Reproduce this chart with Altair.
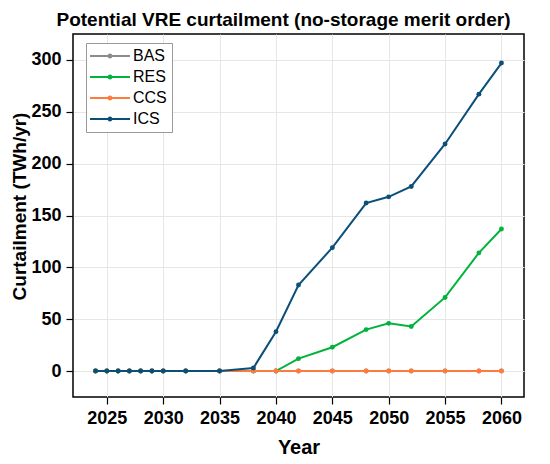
import altair as alt
import pandas as pd

years = [2024, 2025, 2026, 2027, 2028, 2029, 2030, 2032, 2035, 2038,
         2040, 2042, 2045, 2048, 2050, 2052, 2055, 2058, 2060]
bas = [0, 0, 0, 0, 0, 0, 0, 0, 0, 0, 0, 0, 0, 0, 0, 0, 0, 0, 0]
res = [0, 0, 0, 0, 0, 0, 0, 0, 0, 0, 0, 12, 23, 40, 46, 43, 71, 114, 137]
ccs = [0, 0, 0, 0, 0, 0, 0, 0, 0, 0, 0, 0, 0, 0, 0, 0, 0, 0, 0]
ics = [0, 0, 0, 0, 0, 0, 0, 0, 0, 3, 38, 83, 119, 162, 168, 178, 219, 267, 297]

series_names = ["BAS", "RES", "CCS", "ICS"]
series_colors = ["#8c8c8c", "#00b33c", "#ff7a3d", "#0b4f79"]
x_ticks = [2025, 2030, 2035, 2040, 2045, 2050, 2055, 2060]
y_ticks = [0, 50, 100, 150, 200, 250, 300]

rows = []
for name, vals in zip(series_names, [bas, res, ccs, ics]):
    for yr, v in zip(years, vals):
        rows.append({"Year": yr, "Curtailment": v, "Series": name})
df = pd.DataFrame(rows)

FONT = "Liberation Sans"

x_enc = alt.X("Year:Q",
              scale=alt.Scale(domain=[2022, 2062], nice=False, zero=False),
              axis=alt.Axis(values=x_ticks, format="d", title="Year"))
y_enc = alt.Y("Curtailment:Q",
              scale=alt.Scale(domain=[-25, 325], nice=False, zero=False),
              axis=alt.Axis(values=y_ticks, title="Curtailment (TWh/yr)",
                            titleY=172, titleFontSize=19, titlePadding=1))

color_scale = alt.Scale(domain=series_names, range=series_colors)

sym_path = ("M-4,-0.2L4,-0.2L4,0.2L-4,0.2Z "
            "M-0.5,0A0.5,0.5,0,1,1,0.5,0A0.5,0.5,0,1,1,-0.5,0Z")

legend = alt.Legend(
    title=None, orient="none", legendX=13, legendY=9,
    symbolType=sym_path, symbolSize=100, symbolOffset=11, labelOffset=15,
    symbolStrokeWidth=0,
    labelFont=FONT, labelFontSize=16, labelColor="black",
    strokeColor="#9a9a9a", fillColor="white", padding=5, rowPadding=5,
    cornerRadius=0,
)

layers = []
for name, col in zip(series_names, series_colors):
    base = alt.Chart(df).transform_filter(alt.datum.Series == name)
    line = base.mark_line(strokeWidth=2, color=col).encode(x=x_enc, y=y_enc)
    pts = base.mark_point(filled=True, size=24, opacity=1).encode(
        x=x_enc, y=y_enc,
        color=alt.Color("Series:N", scale=color_scale, legend=legend),
    )
    layers += [line, pts]

chart = alt.layer(*layers).properties(
    width=451, height=363,
    autosize="none",
    padding={"left": 65, "top": 26, "right": 18, "bottom": 59},
    title=alt.Title("Potential VRE curtailment (no-storage merit order)",
                    font=FONT, fontSize=19, fontWeight="bold", color="black",
                    anchor="middle", dx=-15, offset=4),
).configure_view(
    stroke="black", strokeWidth=1.5
).configure_axis(
    domain=False,
    grid=True, gridColor="#e6e6e6", gridWidth=1,
    ticks=True, tickColor="black", tickSize=7, tickWidth=1.2,
    labelFont=FONT, labelFontSize=18, labelFontWeight="bold", labelColor="black",
    labelPadding=5,
    titleFont=FONT, titleFontSize=20, titleFontWeight="bold", titleColor="black",
).configure_axisX(
    titlePadding=10,
)

chart.save("out.html", embed_options={"renderer": "svg", "actions": False})
